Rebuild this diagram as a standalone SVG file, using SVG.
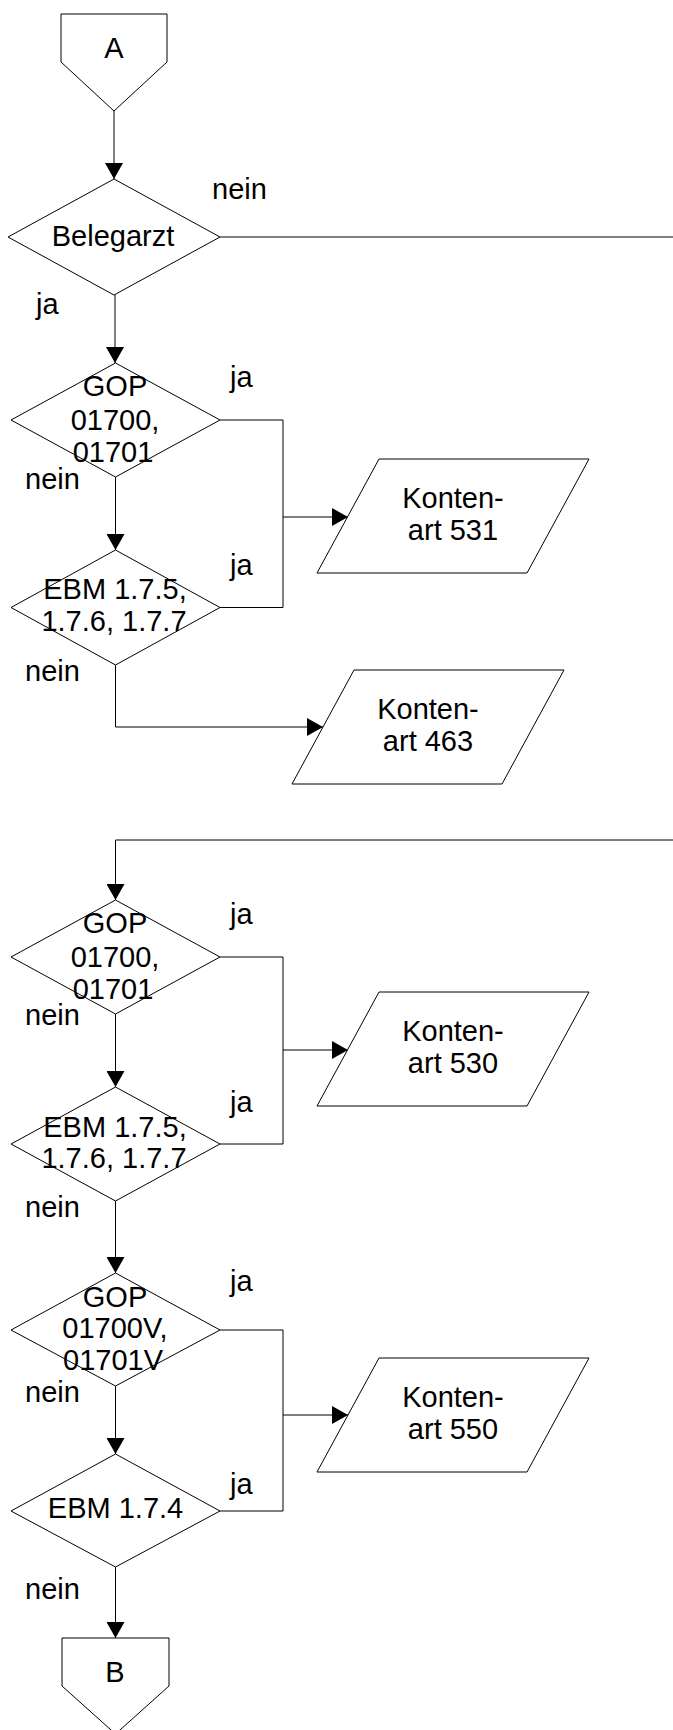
<svg xmlns="http://www.w3.org/2000/svg" width="673" height="1730" viewBox="0 0 673 1730">
<style>
.shape{fill:#fff;stroke:#000;stroke-width:1}
.conn{fill:none;stroke:#000;stroke-width:1}
.t{font-family:"Liberation Sans",Arial,sans-serif;font-size:29px;fill:#000}
.c{text-anchor:middle}
</style>
<defs>
<marker id="arr" markerUnits="userSpaceOnUse" markerWidth="16" markerHeight="18" refX="16" refY="9" orient="auto">
<path d="M0,0 L16,9 L0,18 z" fill="#000"/>
</marker>
</defs>
<rect width="673" height="1730" fill="#fff"/>
<g id="connectors">
<path class="conn" d="M114,111 V179" marker-end="url(#arr)"/>
<path class="conn" d="M220,237 H673"/>
<path class="conn" d="M115,295 V363" marker-end="url(#arr)"/>
<path class="conn" d="M115.5,477 V550" marker-end="url(#arr)"/>
<path class="conn" d="M220,420 H283 V607.5 H220"/>
<path class="conn" d="M283,517 H348" marker-end="url(#arr)"/>
<path class="conn" d="M115.5,665 V727 H323" marker-end="url(#arr)"/>
<path class="conn" d="M673,840 H115.5 V900" marker-end="url(#arr)"/>
<path class="conn" d="M115.5,1014 V1087" marker-end="url(#arr)"/>
<path class="conn" d="M220,957 H283 V1144 H220"/>
<path class="conn" d="M283,1050 H348" marker-end="url(#arr)"/>
<path class="conn" d="M115.5,1201 V1273" marker-end="url(#arr)"/>
<path class="conn" d="M220,1330 H283 V1511 H220"/>
<path class="conn" d="M283,1415 H348" marker-end="url(#arr)"/>
<path class="conn" d="M115.5,1386 V1454" marker-end="url(#arr)"/>
<path class="conn" d="M115.5,1567 V1638" marker-end="url(#arr)"/>
</g>
<g id="labels">
<text class="t" x="212" y="199">nein</text>
<text class="t" x="36" y="314">ja</text>
<text class="t" x="230" y="387">ja</text>
<text class="t" x="25" y="489">nein</text>
<text class="t" x="230" y="575">ja</text>
<text class="t" x="25" y="681">nein</text>
<text class="t" x="230" y="924">ja</text>
<text class="t" x="25" y="1025">nein</text>
<text class="t" x="230" y="1112">ja</text>
<text class="t" x="25" y="1217">nein</text>
<text class="t" x="230" y="1291">ja</text>
<text class="t" x="25" y="1402">nein</text>
<text class="t" x="230" y="1494">ja</text>
<text class="t" x="25" y="1599">nein</text>
</g>
<g id="nodeA">
<polygon class="shape" points="61,14 167,14 167,62 114,111 61,62"/>
<text class="t c" x="114" y="58">A</text>
</g>
<g id="belegarzt">
<polygon class="shape" points="114,179 220,237 114,295 8,237"/>
<text class="t c" x="113" y="246">Belegarzt</text>
</g>
<g id="gop1">
<polygon class="shape" points="115.5,363 220,420 115.5,477 11,420"/>
<text class="t c" x="115" y="396">GOP</text>
<text class="t c" x="115" y="430">01700,</text>
<text class="t c" x="113" y="462">01701</text>
</g>
<g id="ebm1">
<polygon class="shape" points="115.5,550 220,607.5 115.5,665 11,607.5"/>
<text class="t c" x="115" y="599">EBM 1.7.5,</text>
<text class="t c" x="114" y="631">1.7.6, 1.7.7</text>
</g>
<g id="ka531">
<polygon class="shape" points="379,459 589,459 527,573 317,573"/>
<text class="t c" x="453" y="508">Konten-</text>
<text class="t c" x="453" y="540">art 531</text>
</g>
<g id="ka463">
<polygon class="shape" points="354,670 564,670 502,784 292,784"/>
<text class="t c" x="428" y="719">Konten-</text>
<text class="t c" x="428" y="751">art 463</text>
</g>
<g id="gop2">
<polygon class="shape" points="115.5,900 220,957 115.5,1014 11,957"/>
<text class="t c" x="115" y="933">GOP</text>
<text class="t c" x="115" y="967">01700,</text>
<text class="t c" x="113" y="999">01701</text>
</g>
<g id="ebm2">
<polygon class="shape" points="115.5,1087 220,1144 115.5,1201 11,1144"/>
<text class="t c" x="115" y="1137">EBM 1.7.5,</text>
<text class="t c" x="114" y="1168">1.7.6, 1.7.7</text>
</g>
<g id="ka530">
<polygon class="shape" points="379,992 589,992 527,1106 317,1106"/>
<text class="t c" x="453" y="1041">Konten-</text>
<text class="t c" x="453" y="1073">art 530</text>
</g>
<g id="gop3">
<polygon class="shape" points="115.5,1273 220,1330 115.5,1386 11,1330"/>
<text class="t c" x="115" y="1307">GOP</text>
<text class="t c" x="115" y="1338">01700V,</text>
<text class="t c" x="113" y="1370">01701V</text>
</g>
<g id="ebm174">
<polygon class="shape" points="115.5,1454 220,1511 115.5,1567 11,1511"/>
<text class="t c" x="115.5" y="1518">EBM 1.7.4</text>
</g>
<g id="ka550">
<polygon class="shape" points="379,1358 589,1358 527,1472 317,1472"/>
<text class="t c" x="453" y="1407">Konten-</text>
<text class="t c" x="453" y="1439">art 550</text>
</g>
<g id="nodeB">
<polygon class="shape" points="62,1638 169,1638 169,1686 115.5,1734 62,1686"/>
<text class="t c" x="115" y="1682">B</text>
</g>
</svg>
